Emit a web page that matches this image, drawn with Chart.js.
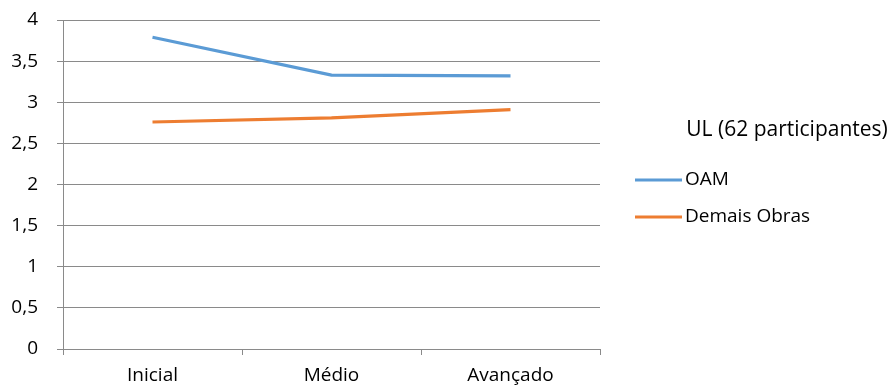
<!DOCTYPE html>
<html lang="pt">
<head>
<meta charset="utf-8">
<title>UL (62 participantes)</title>
<script src="https://cdn.jsdelivr.net/npm/chart.js@4/dist/chart.umd.min.js"></script>
<style>
  html, body { margin: 0; padding: 0; background: #ffffff; }
  #wrap { position: relative; width: 894px; height: 387px; }
</style>
</head>
<body>
<div id="wrap"><canvas id="chart" width="894" height="387"></canvas></div>
<script>
// Categories and series
const categories = ['Inicial', 'Médio', 'Avançado'];
const oamValues = [3.79, 3.33, 3.32];
const demaisObrasValues = [2.76, 2.81, 2.91];
const seriesNames = ['OAM', 'Demais Obras'];
const legendTitle = 'UL (62 participantes)';
const yTicks = [0, 0.5, 1, 1.5, 2, 2.5, 3, 3.5, 4];

const FONT = '"Open Sans", "Noto Sans", sans-serif';
const GRID = '#8a8a8a';

// Legend at the right: a title line, then a short line sample beside each series name
const sideLegend = {
  id: 'sideLegend',
  afterDraw(chart) {
    const ctx = chart.ctx;
    ctx.save();
    ctx.fillStyle = '#000000';
    ctx.textBaseline = 'middle';
    ctx.textAlign = 'center';
    ctx.font = '21px ' + FONT;
    ctx.fillText(legendTitle, 787, 130);
    ctx.textAlign = 'left';
    ctx.font = '19px ' + FONT;
    chart.data.datasets.forEach((ds, i) => {
      const y = 180 + i * 37;
      ctx.strokeStyle = ds.borderColor;
      ctx.lineWidth = 3;
      ctx.beginPath();
      ctx.moveTo(635, y);
      ctx.lineTo(682, y);
      ctx.stroke();
      ctx.fillStyle = '#000000';
      ctx.fillText(ds.label, 685, y);
    });
    ctx.restore();
  }
};

new Chart(document.getElementById('chart'), {
  type: 'line',
  data: {
    labels: categories,
    datasets: [
      {
        label: seriesNames[0],
        data: oamValues,
        borderColor: '#5b9bd5',
        backgroundColor: '#5b9bd5',
        borderWidth: 3.2,
        pointRadius: 0,
        tension: 0
      },
      {
        label: seriesNames[1],
        data: demaisObrasValues,
        borderColor: '#ed7d31',
        backgroundColor: '#ed7d31',
        borderWidth: 3.2,
        pointRadius: 0,
        tension: 0
      }
    ]
  },
  options: {
    responsive: false,
    animation: false,
    devicePixelRatio: 1,
    layout: { padding: { left: 10, right: 294, top: 20, bottom: 0 } },
    plugins: {
      legend: { display: false },
      tooltip: { enabled: false }
    },
    scales: {
      x: {
        offset: true,
        grid: {
          offset: true,
          drawOnChartArea: false,
          drawTicks: true,
          tickLength: 6,
          color: GRID,
          lineWidth: 1
        },
        border: { color: GRID, width: 1 },
        ticks: {
          color: '#000000',
          font: { family: FONT, size: 19 },
          padding: 9,
          maxRotation: 0
        },
        afterFit(scale) { scale.height = 38; }
      },
      y: {
        min: 0,
        max: 4,
        afterBuildTicks(scale) { scale.ticks = yTicks.map(v => ({ value: v })); },
        grid: {
          color: GRID,
          lineWidth: 1,
          drawTicks: true,
          tickLength: 6
        },
        border: { color: GRID, width: 1 },
        ticks: {
          color: '#000000',
          font: { family: FONT, size: 19 },
          padding: 19,
          callback: v => String(v).replace('.', ',')
        },
        afterFit(scale) {
          scale.width = 53;
          scale.paddingTop = 0;
          scale.paddingBottom = 0;
        }
      }
    }
  },
  plugins: [sideLegend]
});
</script>
</body>
</html>
